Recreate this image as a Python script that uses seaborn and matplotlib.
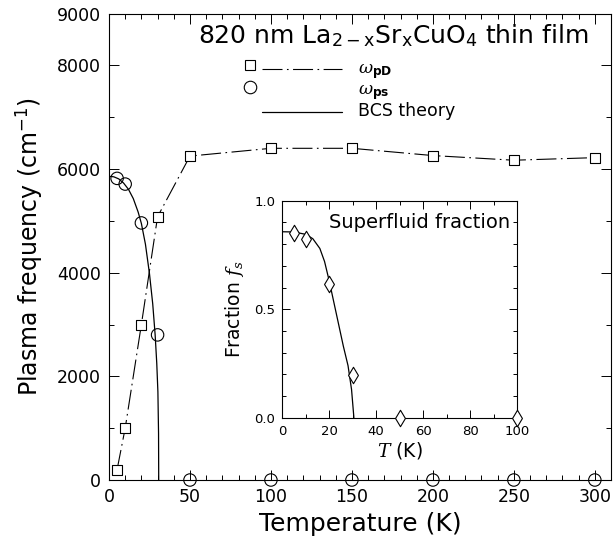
import numpy as np
import pandas as pd
import matplotlib
matplotlib.use("Agg")
import matplotlib.pyplot as plt
import seaborn as sns
from matplotlib.lines import Line2D
from matplotlib.legend_handler import HandlerBase
from matplotlib.ticker import MultipleLocator

# ---------------- data ----------------
T_pD = [5, 10, 20, 30, 50, 100, 150, 200, 250, 300]
w_pD = [200, 1000, 3000, 5080, 6250, 6400, 6400, 6260, 6170, 6220]

T_ps = [5, 10, 20, 30, 50, 100, 150, 200, 250, 300]
w_ps = [5820, 5710, 4960, 2800, 0, 0, 0, 0, 0, 0]

T_bcs = [0, 3, 6, 9, 12, 15, 18, 20, 22.5, 25, 27, 28.5, 29.5, 30.2, 30.6, 30.7]
w_bcs = [5860, 5850, 5810, 5730, 5610, 5430, 5170, 4950, 4550, 3980, 3400, 2800,
         2250, 1700, 900, 0]

T_fs = [5, 10, 20, 30, 50, 100]
fs = [0.853, 0.824, 0.618, 0.198, 0.0, 0.0]

T_fs_bcs = [0, 5, 10, 13, 16, 18, 20, 22, 24, 26, 28, 29.5, 30.5]
fs_bcs = [0.857, 0.856, 0.845, 0.825, 0.78, 0.72, 0.63, 0.53, 0.43, 0.33, 0.24, 0.13, 0.0]

x_ticks = [0, 50, 100, 150, 200, 250, 300]
y_ticks = [0, 2000, 4000, 6000, 8000, 9000]
inset_x_ticks = [0, 20, 40, 60, 80, 100]
inset_y_ticks = [0.0, 0.5, 1.0]

title = r"820 nm La$_{\mathrm{2-x}}$Sr$_{\mathrm{x}}$CuO$_{\mathrm{4}}$ thin film"
label_pD = r"$\omega_{\mathbf{pD}}$"
label_ps = r"$\omega_{\mathbf{ps}}$"
label_bcs = "BCS theory"

# ---------------- style ----------------
sns.set_style("ticks")
plt.rcParams["font.family"] = ["DejaVu Sans"]
plt.rcParams["mathtext.fontset"] = "custom"
plt.rcParams["mathtext.rm"] = "DejaVu Sans"
plt.rcParams["mathtext.bf"] = "DejaVu Sans:bold"
plt.rcParams["mathtext.it"] = "DejaVu Serif:italic"
plt.rcParams["mathtext.sf"] = "DejaVu Sans"
plt.rcParams["axes.linewidth"] = 0.8
for k in ["text.color", "axes.labelcolor", "xtick.color", "ytick.color",
          "axes.edgecolor"]:
    plt.rcParams[k] = "black"

dashdot = (0, (18, 4, 1.5, 4))

fig = plt.figure(figsize=(6.13, 5.38), dpi=100)
ax = fig.add_axes([0.1778, 0.1078, 0.819, 0.867])

df_pD = pd.DataFrame({"T": T_pD, "w": w_pD})
df_ps = pd.DataFrame({"T": T_ps, "w": w_ps})
df_bcs = pd.DataFrame({"T": T_bcs, "w": w_bcs})

sns.lineplot(data=df_pD, x="T", y="w", ax=ax, color="k", lw=0.8,
             linestyle=dashdot, sort=False, zorder=2)
sns.lineplot(data=df_bcs, x="T", y="w", ax=ax, color="k", lw=0.9,
             sort=False, zorder=2)
sns.scatterplot(data=df_pD, x="T", y="w", ax=ax, marker="s", s=48,
                facecolor="white", edgecolor="k", linewidth=0.8, zorder=3,
                clip_on=False)
sns.scatterplot(data=df_ps, x="T", y="w", ax=ax, marker="o", s=80,
                facecolor="none", edgecolor="k", linewidth=0.8, zorder=3,
                clip_on=False)

ax.set_xlim(0, 310)
ax.set_ylim(0, 9000)
ax.set_xticks(x_ticks)
ax.set_yticks(y_ticks)
ax.xaxis.set_minor_locator(MultipleLocator(10))
ax.yaxis.set_minor_locator(MultipleLocator(1000))
ax.tick_params(which="both", direction="in", top=True, right=True,
               width=0.7, labelsize=12.5, pad=6, colors="black")
ax.tick_params(which="major", length=7)
ax.tick_params(which="minor", length=3.5)
ax.set_xlabel("Temperature (K)", fontsize=18, labelpad=4)
ax.set_ylabel(r"Plasma frequency (cm$^{-1}$)", fontsize=17, labelpad=8)
for sp in ax.spines.values():
    sp.set_linewidth(0.8)
    sp.set_color("black")

ax.text(0.955, 0.982, title, transform=ax.transAxes, ha="right", va="top",
        fontsize=18)


# ---------------- legend ----------------
class OffsetHandler(HandlerBase):
    def __init__(self, marker=None, ms=7, line=None, lw=0.8, **kw):
        super().__init__(**kw)
        self.marker = marker
        self.ms = ms
        self.line = line
        self.lw = lw

    def create_artists(self, legend, orig_handle, xdescent, ydescent,
                       width, height, fontsize, trans):
        arts = []
        yc = height / 2.0 - ydescent
        if self.line is not None:
            x0 = -xdescent + 0.13 * width
            l = Line2D([x0, width - xdescent], [yc - 0.15 * height] * 2,
                       color="k", lw=self.lw, linestyle=self.line)
            l.set_transform(trans)
            arts.append(l)
        if self.marker is not None:
            m = Line2D([-xdescent], [yc + 0.15 * height], marker=self.marker,
                       ms=self.ms, mfc="white", mec="k", mew=0.8, ls="none")
            m.set_transform(trans)
            arts.append(m)
        return arts


h1 = Line2D([], [], color="k")
h2 = Line2D([], [], color="k")
h3 = Line2D([], [], color="k")
leg = ax.legend([h1, h2, h3], [label_pD, label_ps, label_bcs],
                handler_map={h1: OffsetHandler(marker="s", ms=7, line=dashdot),
                             h2: OffsetHandler(marker="o", ms=9),
                             h3: OffsetHandler(line="-", lw=0.9)},
                loc="upper left", bbox_to_anchor=(250 / 613, 1 - 59 / 538),
                bbox_transform=fig.transFigure, frameon=False, fontsize=12.5,
                handlelength=5.3, handletextpad=0.9, labelspacing=0.0,
                borderpad=0, borderaxespad=0)

# ---------------- inset ----------------
axi = fig.add_axes([0.4605, 0.2236, 0.383, 0.4033])
df_fs = pd.DataFrame({"T": T_fs, "f": fs})
df_fsb = pd.DataFrame({"T": T_fs_bcs, "f": fs_bcs})
sns.lineplot(data=df_fsb, x="T", y="f", ax=axi, color="k", lw=0.9, sort=False)
sns.scatterplot(data=df_fs, x="T", y="f", ax=axi, marker="d", s=70,
                facecolor="white", edgecolor="k", linewidth=0.8, zorder=3,
                clip_on=False)
axi.set_xlim(0, 100)
axi.set_ylim(0, 1.0)
axi.set_xticks(inset_x_ticks)
axi.set_yticks(inset_y_ticks)
axi.xaxis.set_minor_locator(MultipleLocator(10))
axi.yaxis.set_minor_locator(MultipleLocator(0.1))
axi.tick_params(which="both", direction="in", top=True, right=True,
                width=0.7, labelsize=9.5, pad=5, colors="black")
axi.tick_params(which="major", length=6)
axi.tick_params(which="minor", length=3)
axi.set_xlabel(r"$T$ (K)", fontsize=13.5, labelpad=2)
axi.set_ylabel(r"Fraction $f_s$", fontsize=13.5, labelpad=6)
axi.text(0.97, 0.9, "Superfluid fraction", transform=axi.transAxes,
         ha="right", va="center", fontsize=14)
for sp in axi.spines.values():
    sp.set_linewidth(0.8)
    sp.set_color("black")

fig.savefig("out.png", dpi=100)
